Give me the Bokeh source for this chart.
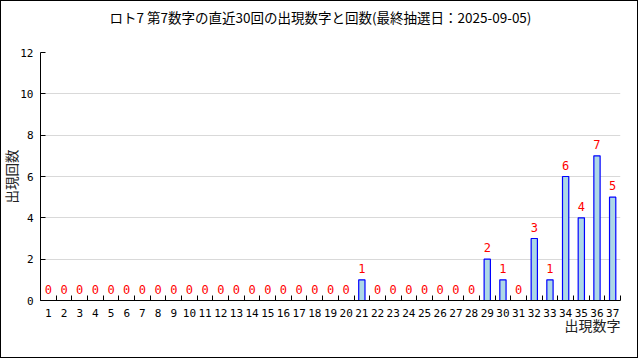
from bokeh.plotting import figure
from bokeh.models import FixedTicker, ColumnDataSource, Range1d, Title
from bokeh.embed import file_html
from bokeh.resources import INLINE
from bokeh.core.properties import value

title_text = "ロト7 第7数字の直近30回の出現数字と回数(最終抽選日：2025-09-05)"
x_label = "出現数字"
y_label = "出現回数"

numbers = list(range(1, 38))
counts = [0, 0, 0, 0, 0, 0, 0, 0, 0, 0,
          0, 0, 0, 0, 0, 0, 0, 0, 0, 0,
          1, 0, 0, 0, 0, 0, 0, 0, 2, 1,
          0, 3, 1, 6, 4, 7, 5]
y_ticks = [0, 2, 4, 6, 8, 10, 12]

src_all = ColumnDataSource(dict(x=numbers, y=counts, t=[str(c) for c in counts]))
nz = [(n, c) for n, c in zip(numbers, counts) if c > 0]
src_bar = ColumnDataSource(dict(x=[a for a, _ in nz], y=[b for _, b in nz]))

mono = "DejaVu Sans Mono"
cjk = "Noto Sans CJK JP"

p = figure(width=638, height=358,
           x_range=Range1d(0.5, 37.5), y_range=Range1d(0, 12),
           output_backend="svg", toolbar_location=None,
           min_border_left=39, min_border_right=19,
           min_border_top=51, min_border_bottom=59)
p.styles = {"border": "1px solid black"}
p.outline_line_color = None
p.background_fill_color = "white"
p.border_fill_color = "white"

p.title.text = title_text + "\n "
p.title.align = "left"
p.title.vertical_align = "top"
p.title.offset = 69
p.title.text_font = cjk
p.title.text_font_size = "13.5px"
p.title.text_font_style = "normal"
p.title.text_color = "black"
p.title.standoff = 8

p.vbar(x="x", top="y", width=0.4, bottom=0, source=src_bar,
       fill_color="#add8e6", line_color="#0000ff", line_width=1.2)

p.text(x="x", y="y", text="t", source=src_all, text_align="center",
       text_baseline="bottom", y_offset=-7, text_color="#ff0000",
       text_font=value(mono), text_font_size="12px")

xa = p.xaxis[0]
xa.ticker = FixedTicker(ticks=numbers, minor_ticks=[n - 0.5 for n in numbers] + [numbers[-1] + 0.5])
xa.major_tick_line_color = None
xa.minor_tick_in = 5
xa.minor_tick_out = 0
xa.minor_tick_line_color = "black"
xa.major_label_text_font = mono
xa.major_label_text_font_size = "11px"
xa.major_label_text_color = "black"
xa.major_label_standoff = 2
xa.axis_line_color = "black"

ya = p.yaxis[0]
ya.ticker = FixedTicker(ticks=y_ticks)
ya.major_tick_in = 5
ya.major_tick_out = 0
ya.minor_tick_line_color = None
ya.major_label_text_font = mono
ya.major_label_text_font_size = "11px"
ya.major_label_text_color = "black"
ya.major_label_standoff = 7
ya.axis_line_color = "black"

p.xgrid.visible = False
p.ygrid.grid_line_color = "#d9d9d9"

p.add_layout(Title(text=x_label, align="right", offset=0, standoff=-14,
                   text_font=cjk, text_font_size="14px",
                   text_font_style="normal", text_color="#222222"), "below")
p.add_layout(Title(text=y_label, align="center", standoff=-7,
                   text_font=cjk, text_font_size="13.5px",
                   text_font_style="normal", text_color="#222222"), "left")

open("out.html", "w").write(file_html(p, INLINE))
